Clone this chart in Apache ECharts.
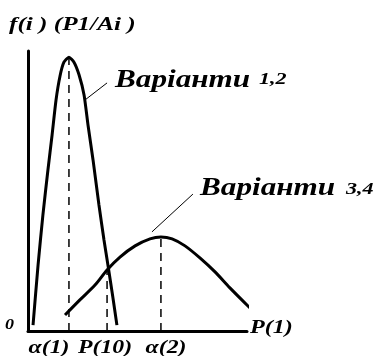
<!DOCTYPE html>
<html>
<head>
<meta charset="utf-8">
<script src="https://cdn.jsdelivr.net/npm/echarts@6/dist/echarts.min.js"></script>
<style>
  html, body { margin: 0; padding: 0; background: #fff; }
  #chart { width: 380px; height: 356px; }
</style>
</head>
<body>
<div id="chart"></div>
<script>
// крива варіантів 1,2 (вузька)
var narrowX = [0.23, 0.46, 0.68, 0.91, 1.10, 1.28, 1.46, 1.64, 1.87, 2.10, 2.33, 2.56, 2.74, 2.97, 3.24, 3.47, 3.65, 3.88, 4.06];
var narrowY = [0.021, 0.236, 0.414, 0.575, 0.700, 0.825, 0.910, 0.960, 0.978, 0.960, 0.915, 0.843, 0.736, 0.611, 0.450, 0.325, 0.236, 0.118, 0.021];
// крива варіантів 3,4 (широка)
var wideX = [1.69, 2.37, 3.06, 3.61, 4.20, 4.89, 5.57, 6.07, 6.58, 7.17, 7.85, 8.54, 9.22, 10.14];
var wideY = [0.057, 0.111, 0.164, 0.218, 0.264, 0.304, 0.329, 0.336, 0.329, 0.304, 0.261, 0.211, 0.154, 0.082];
// пунктирні вертикалі
var markX = [1.87, 3.61, 6.07];
var markTop = [0.975, 0.218, 0.336];
var markNames = ['α(1)', 'P(10)', 'α(2)'];
// виноски
var leader1 = [[2.60, 0.825], [3.61, 0.886]];
var leader2 = [[5.66, 0.354], [7.53, 0.489]];

function pairs(xs, ys) {
    return xs.map(function (x, i) { return [x, ys[i]]; });
}

var myChart = echarts.init(document.getElementById('chart'));

var series = [
    {
        type: 'line', data: pairs(narrowX, narrowY), smooth: 0.2, symbol: 'none', clip: false,
        lineStyle: {color: '#000', width: 3}
    },
    {
        type: 'line', data: pairs(wideX, wideY), smooth: 0.3, symbol: 'none', clip: false,
        lineStyle: {color: '#000', width: 3}
    },
    {
        type: 'line', data: leader1, symbol: 'none', lineStyle: {color: '#000', width: 1}
    },
    {
        type: 'line', data: leader2, symbol: 'none', lineStyle: {color: '#000', width: 1}
    }
];
markX.forEach(function (x, i) {
    series.push({
        type: 'line', name: markNames[i], data: [[x, 0], [x, markTop[i]]], symbol: 'none',
        lineStyle: {color: '#000', width: 1.5, type: [8, 6]}
    });
});

var bi = 'bold italic ';
var serif = 'px "Liberation Serif", "DejaVu Serif", serif';

// текст, розтягнутий по горизонталі як в оригіналі
function txt(text, x, y, size, sx, align) {
    return {
        type: 'text', x: x, y: y, scaleX: sx,
        style: {
            text: text, font: bi + size + serif, fill: '#000',
            textAlign: align || 'left', textVerticalAlign: 'middle'
        }
    };
}

var option = {
    animation: false,
    grid: {left: 28, top: 51, width: 219, height: 280},
    xAxis: {
        type: 'value', min: 0, max: 10,
        axisLine: {show: true, onZero: false, lineStyle: {color: '#000', width: 3}},
        axisTick: {show: false}, axisLabel: {show: false}, splitLine: {show: false}
    },
    yAxis: {
        type: 'value', min: 0, max: 1,
        axisLine: {show: true, onZero: false, lineStyle: {color: '#000', width: 3}},
        axisTick: {show: false}, axisLabel: {show: false}, splitLine: {show: false}
    },
    series: series,
    graphic: [
        txt('f(i ) (P1/Ai )', 9, 25, 18, 1.4),
        txt('Варіанти', 115, 80, 26, 1.2),
        txt('1,2', 259, 80, 17, 1.3),
        txt('Варіанти', 200, 188, 26, 1.2),
        txt('3,4', 346, 190, 17, 1.3),
        txt('0', 5, 325, 15, 1.2),
        txt('P(1)', 250, 328, 19, 1.27),
        txt(markNames[0], 49, 348, 18, 1.32, 'center'),
        txt(markNames[1], 105, 348, 18, 1.32, 'center'),
        txt(markNames[2], 166, 348, 18, 1.32, 'center')
    ]
};

myChart.setOption(option);
</script>
</body>
</html>
